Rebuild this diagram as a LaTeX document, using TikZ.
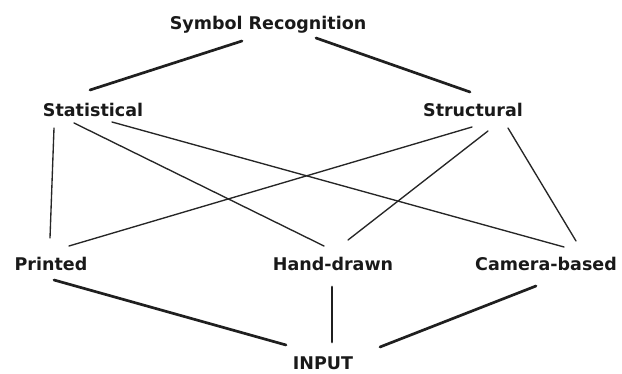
\documentclass[tikz,border=0pt]{standalone}
\usepackage{fontspec}
\setmainfont{DejaVu Sans}
\begin{document}
\begin{tikzpicture}[x=1pt,y=-1pt,
  lbl/.style={anchor=base,inner sep=0pt,font=\fontsize{17.5}{20}\selectfont\bfseries,text=black!90},
  heavy/.style={line width=2.7pt,draw=black!88,line cap=round},
  light/.style={line width=1.35pt,draw=black!85,line cap=round}]
\useasboundingbox (0,0) rectangle (622,374);
\node[lbl] (sr) at (268,30) {Symbol Recognition};
\node[lbl] (stat) at (93,117) {Statistical};
\node[lbl] (struct) at (473,117) {Structural};
\node[lbl] (prt) at (51,271) {Printed};
\node[lbl] (hand) at (333,271) {Hand-drawn};
\node[lbl] (cam) at (546,271) {Camera-based};
\node[lbl] (inp) at (323,370) {INPUT};
% top
\draw[heavy] ([shift={(-26,11)}]sr.base) -- ([shift={(-3,-27)}]stat.base);
\draw[heavy] ([shift={(48,8)}]sr.base) -- ([shift={(-3,-25)}]struct.base);
% middle
\draw[light] ([shift={(-39,11)}]stat.base) -- ([shift={(-1,-33)}]prt.base);
\draw[light] ([shift={(-19,6)}]stat.base) -- ([shift={(-9,-25)}]hand.base);
\draw[light] ([shift={(19,5)}]stat.base) -- ([shift={(18,-24)}]cam.base);
\draw[light] ([shift={(-1,10)}]struct.base) -- ([shift={(18,-25)}]prt.base);
\draw[light] ([shift={(15,14)}]struct.base) -- ([shift={(15,-31)}]hand.base);
\draw[light] ([shift={(35,11)}]struct.base) -- ([shift={(30,-30)}]cam.base);
% bottom
\draw[heavy] ([shift={(3,9)}]prt.base) -- ([shift={(-37,-25)}]inp.base);
\draw[heavy] ([shift={(-1,16)}]hand.base) -- ([shift={(9,-28)}]inp.base);
\draw[heavy] ([shift={(-10,15)}]cam.base) -- ([shift={(57,-23)}]inp.base);
\end{tikzpicture}
\end{document}
